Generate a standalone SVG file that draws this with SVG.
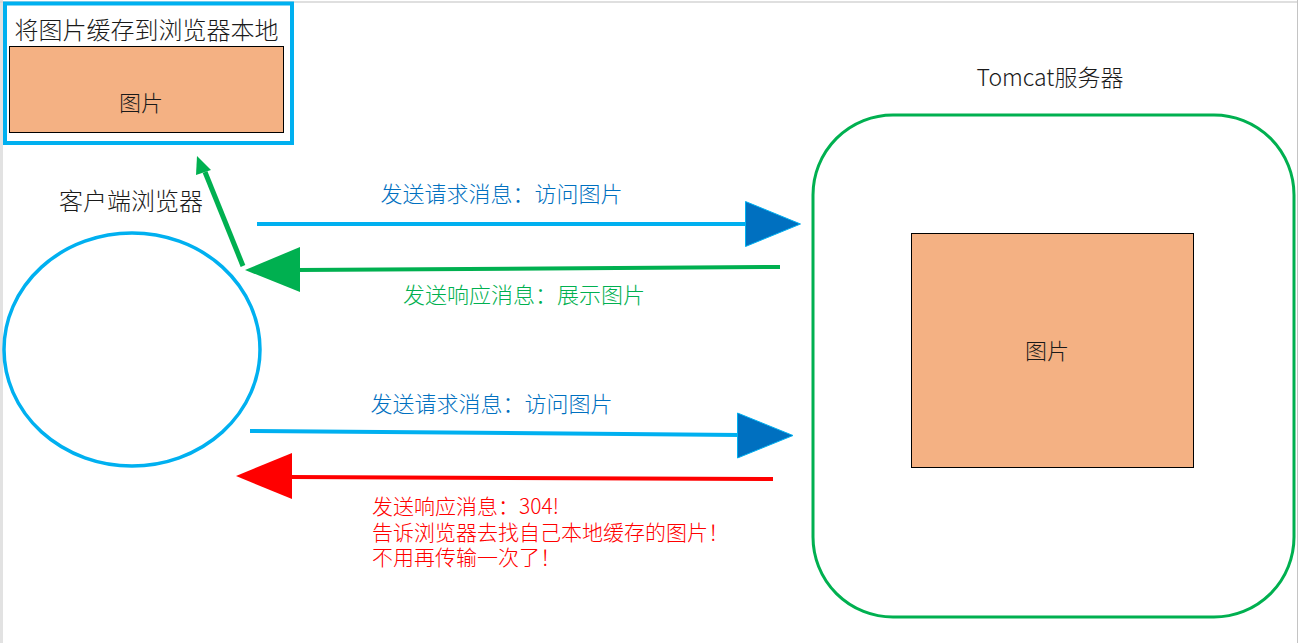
<svg xmlns="http://www.w3.org/2000/svg" width="1298" height="643" viewBox="0 0 1298 643">
<style>
text{font-family:"Noto Sans CJK SC","Noto Sans",sans-serif;font-weight:300;}
.dark{fill:#1a1a1a;}
.img{fill:#f4b183;stroke:#000;stroke-width:1;}
.blue{fill:#0070c0;}
.green{fill:#00b050;}
.red{fill:#ff0000;}
</style>
<rect x="0" y="0" width="1298" height="643" fill="#ffffff"/>
<rect x="0" y="0" width="3" height="643" fill="#e2e2e2"/>
<line x1="0" y1="2" x2="1298" y2="2" stroke="#d4d4d4" stroke-width="1.5"/>
<line x1="1297.5" y1="0" x2="1297.5" y2="643" stroke="#c4c4c4" stroke-width="1"/>

<g id="local-cache">
<rect x="5" y="3.5" width="287" height="139.5" fill="#ffffff" stroke="#00b0f0" stroke-width="4"/>
<text x="146.5" y="39" font-size="24" text-anchor="middle" class="dark">将图片缓存到浏览器本地</text>
<rect x="9.5" y="46.5" width="274" height="86" class="img"/>
<text x="141" y="111" font-size="22" text-anchor="middle" class="dark">图片</text>
</g>

<g id="browser">
<text x="131" y="210" font-size="24" text-anchor="middle" class="dark">客户端浏览器</text>
<ellipse cx="132" cy="349.5" rx="128" ry="116.5" fill="none" stroke="#00b0f0" stroke-width="3.5"/>
</g>

<g id="server">
<text x="1050" y="86" font-size="23" text-anchor="middle" class="dark">Tomcat服务器</text>
<rect x="813" y="115" width="481" height="502" rx="80" ry="80" fill="none" stroke="#00b050" stroke-width="3"/>
<rect x="911.5" y="233.5" width="282" height="234" class="img"/>
<text x="1047" y="359" font-size="22" text-anchor="middle" class="dark">图片</text>
</g>

<g id="connectors">
<line x1="243" y1="266" x2="205" y2="172" stroke="#00b050" stroke-width="5"/>
<polygon points="197,156 196,175 211,170" fill="#00b050"/>

<line x1="257" y1="224" x2="748" y2="224" stroke="#00b0f0" stroke-width="4"/>
<polygon points="745.5,201.5 745.5,246.5 800.5,224" fill="#0070c0" stroke="#00b0f0" stroke-width="1"/>

<line x1="780" y1="267" x2="298" y2="270" stroke="#00b050" stroke-width="4"/>
<polygon points="245,270 300,247 300,292" fill="#00b050"/>

<line x1="250" y1="431" x2="740" y2="435" stroke="#00b0f0" stroke-width="4"/>
<polygon points="737.5,413 737.5,458 793,435.5" fill="#0070c0" stroke="#00b0f0" stroke-width="1"/>

<line x1="773" y1="479" x2="290" y2="477" stroke="#ff0000" stroke-width="4"/>
<polygon points="236,476 292,453 292,499" fill="#ff0000"/>
</g>

<g id="labels">
<text x="501.5" y="202" font-size="22" text-anchor="middle" class="blue">发送请求消息：访问图片</text>
<text x="524" y="303" font-size="22" text-anchor="middle" class="green">发送响应消息：展示图片</text>
<text x="491.5" y="412" font-size="22" text-anchor="middle" class="blue">发送请求消息：访问图片</text>
<text x="372" y="514" font-size="21" class="red">发送响应消息：304!</text>
<text x="372" y="540" font-size="21" class="red">告诉浏览器去找自己本地缓存的图片！</text>
<text x="372" y="565" font-size="21" class="red">不用再传输一次了！</text>
</g>
</svg>
